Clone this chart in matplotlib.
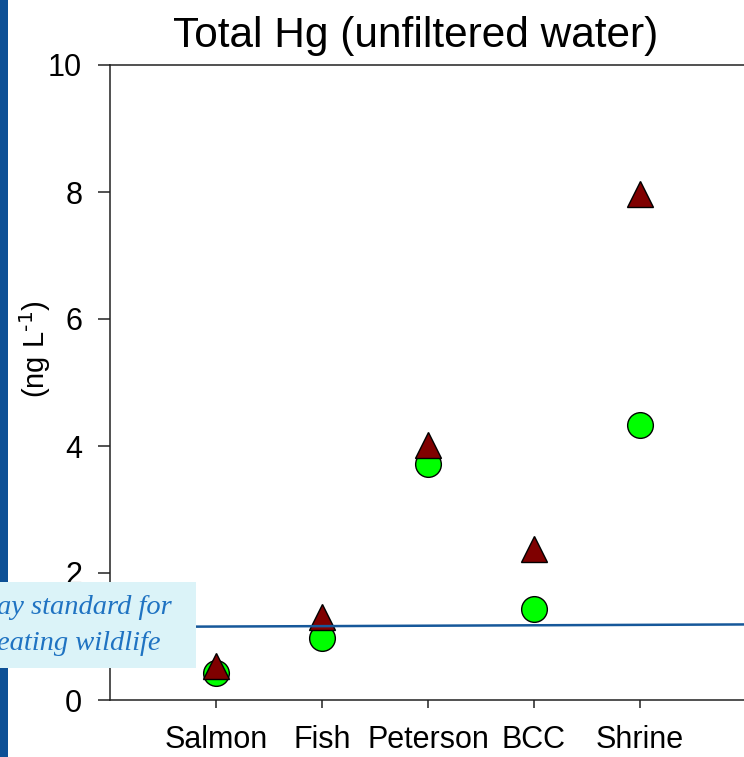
import matplotlib.pyplot as plt
from matplotlib.patches import Rectangle

# Sampling sites and total Hg concentrations (ng/L)
sites = ["Salmon", "Fish", "Peterson", "BCC", "Shrine"]
hg_circle = [0.43, 0.98, 3.72, 1.44, 4.33]
hg_triangle = [0.53, 1.31, 4.02, 2.38, 7.97]

# Wildlife standard line (drawn across the plot, left end / right end)
standard_x = [0.0, 6.0]
standard_y = [1.15, 1.19]

y_ticks = [0, 2, 4, 6, 8, 10]

plt.rcParams["font.family"] = ["Liberation Sans", "DejaVu Sans"]

W, H = 744, 757
fig = plt.figure(figsize=(W / 100, H / 100), dpi=100)

# left decorative bar
fig.patches.append(Rectangle((0, 0), 8 / W, 1, transform=fig.transFigure,
                             facecolor="#0d5096", edgecolor="none", zorder=0))

ax = fig.add_axes([110 / W, 57 / H, 636 / W, 635 / H])
x = list(range(1, len(sites) + 1))

ax.plot(x, hg_circle, linestyle="none", marker="o", markersize=18.5,
        markerfacecolor="#00ff00", markeredgecolor="black", markeredgewidth=1.0, zorder=3)
ax.plot(x, hg_triangle, linestyle="none", marker="^", markersize=18.5,
        markerfacecolor="#7f0000", markeredgecolor="black", markeredgewidth=1.0, zorder=4)

ax.plot(standard_x, standard_y, color="#16589a", linewidth=1.8, zorder=5, clip_on=False)

ax.set_xlim(0, 6)
ax.set_ylim(0, 10)
ax.set_xticks(x)
ax.set_xticklabels(sites)
ax.set_yticks(y_ticks)

for side in ["left", "bottom", "top"]:
    ax.spines[side].set_color("#222222")
    ax.spines[side].set_linewidth(1.1)
ax.spines["right"].set_visible(False)

ax.tick_params(axis="y", direction="out", length=9, width=1.1, pad=11,
               labelsize=22, color="#222222")
ax.tick_params(axis="x", direction="out", length=6, width=1.1, pad=12,
               labelsize=22, color="#222222")

ax.set_ylabel("(ng L$^{\\text{-1}}$)", fontsize=21)
ax.yaxis.set_label_coords(-0.09, 0.553)
fig.text(416 / W, 1 - 36 / H, "Total Hg (unfiltered water)", fontsize=30.5,
         ha="center", va="center")

# label box for the standard, running off the left edge
fig.patches.append(Rectangle((0, 1 - 668 / H), 196 / W, 86 / H, transform=fig.transFigure,
                             facecolor="#dbf3f8", edgecolor="none", zorder=1))
fig.text(-3 / W, 1 - 608 / H, "ay standard for", fontsize=20.5, style="italic",
         family=["Liberation Serif", "DejaVu Serif"], color="#1f73c2",
         ha="left", va="center", zorder=2)
fig.text(-3 / W, 1 - 643 / H, "eating wildlife", fontsize=20.5, style="italic",
         family=["Liberation Serif", "DejaVu Serif"], color="#1f73c2",
         ha="left", va="center", zorder=2)

fig.savefig("out.png", dpi=100)
